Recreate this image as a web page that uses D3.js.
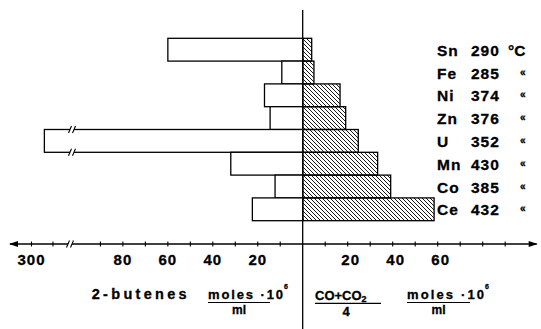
<!DOCTYPE html>
<html>
<head>
<meta charset="utf-8">
<script src="https://cdn.jsdelivr.net/npm/d3@7"></script>
<style>
  body { margin: 0; background: #fff; }
  svg { display: block; }
  text { font-family: "Liberation Sans", Arial, sans-serif; font-weight: bold; fill: #000; stroke: #000; stroke-width: 0.3px; }
</style>
</head>
<body>
<div id="chart"></div>
<script>
// metals, reaction temperature and the two product amounts (moles . 10^-6 / ml)
var metals = ["Sn", "Fe", "Ni", "Zn", "U", "Mn", "Co", "Ce"];
var temps = [290, 285, 374, 376, 352, 430, 385, 432];
var butenes = [60, 9.3, 17, 14.5, 294, 32, 12.3, 22.4];
var coxs = [4, 5, 16.6, 19.1, 24.7, 33.3, 39.1, 58.4];

var leftTicks = [10, 20, 30, 40, 50, 60, 70, 80, 90, 290, 300];
var leftLabels = [20, 40, 60, 80, 300];
var rightTicks = [10, 20, 30, 40, 50, 60, 70, 80, 90];
var rightLabels = [20, 40, 60];

var width = 541, height = 329;
var cx = 302.7, axisY = 244;

var svg = d3.select("#chart").append("svg")
	.attr("width", width).attr("height", height);

var defs = svg.append("defs");
defs.append("pattern")
	.attr("id", "hatch")
	.attr("patternUnits", "userSpaceOnUse")
	.attr("width", 4).attr("height", 4)
  .append("path")
	.attr("d", "M-1,-1 L5,5 M-1,3 L1,5 M3,-1 L5,1")
	.attr("stroke", "#000")
	.attr("stroke-width", 0.9);

// left scale is broken between ~97 and ~283
var xLeft = d3.scaleLinear()
	.domain([0, 97, 283, 310])
	.range([cx, cx - 218, 68, 10]);
var xRight = d3.scaleLinear()
	.domain([0, 104])
	.range([cx, cx + 234]);
var y = d3.scaleBand()
	.domain(metals)
	.range([38.3, 220.7]);

var rows = metals.map(function(m, i) {
	return {metal: m, temp: temps[i], left: butenes[i], right: coxs[i]};
});

// left bars (2-butenes)
svg.append("g").selectAll("rect")
	.data(rows)
	.enter().append("rect")
	.attr("x", function(d) { return xLeft(d.left); })
	.attr("y", function(d) { return y(d.metal); })
	.attr("width", function(d) { return cx - xLeft(d.left); })
	.attr("height", y.bandwidth())
	.attr("fill", "#fff")
	.attr("stroke", "#000")
	.attr("stroke-width", 1.3);

// right bars (CO+CO2)/4, hatched
svg.append("g").selectAll("rect")
	.data(rows)
	.enter().append("rect")
	.attr("x", cx)
	.attr("y", function(d) { return y(d.metal); })
	.attr("width", function(d) { return xRight(d.right) - cx; })
	.attr("height", y.bandwidth())
	.attr("fill", "url(#hatch)")
	.attr("stroke", "#000")
	.attr("stroke-width", 1.3);

// break marks on the long bar and on the axis
function breakMark(xb, yb) {
	svg.append("rect").attr("x", xb - 2).attr("y", yb - 1.5)
		.attr("width", 4).attr("height", 3).attr("fill", "#fff");
	[-2, 2].forEach(function(dx) {
		svg.append("line")
			.attr("x1", xb + dx - 1.5).attr("y1", yb + 3.5)
			.attr("x2", xb + dx + 1.5).attr("y2", yb - 3.5)
			.attr("stroke", "#000").attr("stroke-width", 1.1);
	});
}
var longRow = rows.filter(function(d) { return d.left > 100; })[0];
breakMark(72, y(longRow.metal));
breakMark(72, y(longRow.metal) + y.bandwidth());

// vertical centre line
svg.append("line")
	.attr("x1", cx).attr("x2", cx)
	.attr("y1", 10).attr("y2", height)
	.attr("stroke", "#000").attr("stroke-width", 1.3);

// horizontal axis
var ax = svg.append("g");
ax.append("line")
	.attr("x1", xLeft(310)).attr("x2", xRight(104))
	.attr("y1", axisY).attr("y2", axisY)
	.attr("stroke", "#000").attr("stroke-width", 1.5);
ax.append("path")
	.attr("d", "M" + (xLeft(310) - 1) + "," + axisY + " l9,-3 l0,6 z")
	.attr("fill", "#000");
ax.append("path")
	.attr("d", "M" + (xRight(104) + 1) + "," + axisY + " l-9,-3 l0,6 z")
	.attr("fill", "#000");
breakMark(70, axisY);

var tickX = leftTicks.map(function(t) { return xLeft(t); })
	.concat(rightTicks.map(function(t) { return xRight(t); }));
ax.selectAll(".tick")
	.data(tickX)
	.enter().append("line")
	.attr("class", "tick")
	.attr("x1", function(d) { return d; }).attr("x2", function(d) { return d; })
	.attr("y1", axisY - 2.5).attr("y2", axisY + 2.5)
	.attr("stroke", "#000").attr("stroke-width", 1.1);

ax.selectAll(".lbl-l")
	.data(leftLabels)
	.enter().append("text")
	.attr("class", "lbl-l")
	.attr("x", function(d) { return xLeft(d); })
	.attr("y", 265)
	.attr("text-anchor", "middle")
	.style("font-size", "15px")
	.style("letter-spacing", "1px")
	.text(function(d) { return d; });

ax.selectAll(".lbl-r")
	.data(rightLabels)
	.enter().append("text")
	.attr("class", "lbl-r")
	.attr("x", function(d) { return xRight(d) + 3; })
	.attr("y", 265)
	.attr("text-anchor", "middle")
	.style("font-size", "15px")
	.style("letter-spacing", "1px")
	.text(function(d) { return d; });

// row labels on the right
var lab = svg.append("g").selectAll("g")
	.data(rows)
	.enter().append("g")
	.attr("transform", function(d) { return "translate(0," + (y(d.metal) + y.bandwidth() / 2 + 6) + ")"; });
lab.append("text")
	.attr("x", 437)
	.style("font-size", "15.5px")
	.style("letter-spacing", "1px")
	.text(function(d) { return d.metal; });
lab.append("text")
	.attr("x", 471)
	.style("font-size", "15.5px")
	.style("letter-spacing", "1px")
	.text(function(d) { return d.temp; });
lab.append("text")
	.attr("x", function(d, i) { return i === 0 ? 508 : 520; })
	.attr("y", function(d, i) { return i === 0 ? 0 : -3; })
	.style("font-size", function(d, i) { return i === 0 ? "15.5px" : "10px"; })
	.text(function(d, i) { return i === 0 ? "\u00b0C" : "\u00ab"; });

// axis titles
var t = svg.append("g");
t.append("text").attr("x", 91.7).attr("y", 298.5)
	.attr("textLength", 95).attr("lengthAdjust", "spacing")
	.style("font-size", "14.5px").text("2-butenes");

function molesFrac(x0, uw, tl) {
	t.append("text").attr("x", x0).attr("y", 299)
		.attr("textLength", tl).attr("lengthAdjust", "spacing")
		.style("font-size", "13px").text("moles \u00b710");
	t.append("text").attr("x", x0 + tl + 1).attr("y", 289)
		.style("font-size", "7px").text("6");
	t.append("line").attr("x1", x0).attr("x2", x0 + uw)
		.attr("y1", 302.5).attr("y2", 302.5)
		.attr("stroke", "#000").attr("stroke-width", 1.2);
	t.append("text").attr("x", x0 + uw / 2).attr("y", 314)
		.attr("text-anchor", "middle")
		.style("font-size", "12px").text("ml");
}
molesFrac(208, 62, 75);
molesFrac(407, 63, 77);

var co = t.append("text").attr("x", 315).attr("y", 300)
	.style("font-size", "13px");
co.append("tspan").text("CO+CO");
co.append("tspan").attr("dy", 2).style("font-size", "9px").text("2");
t.append("line").attr("x1", 315).attr("x2", 381)
	.attr("y1", 303.3).attr("y2", 303.3)
	.attr("stroke", "#000").attr("stroke-width", 1.2);
t.append("text").attr("x", 346).attr("y", 315.5)
	.attr("text-anchor", "middle")
	.style("font-size", "13px").text("4");
</script>
</body>
</html>
